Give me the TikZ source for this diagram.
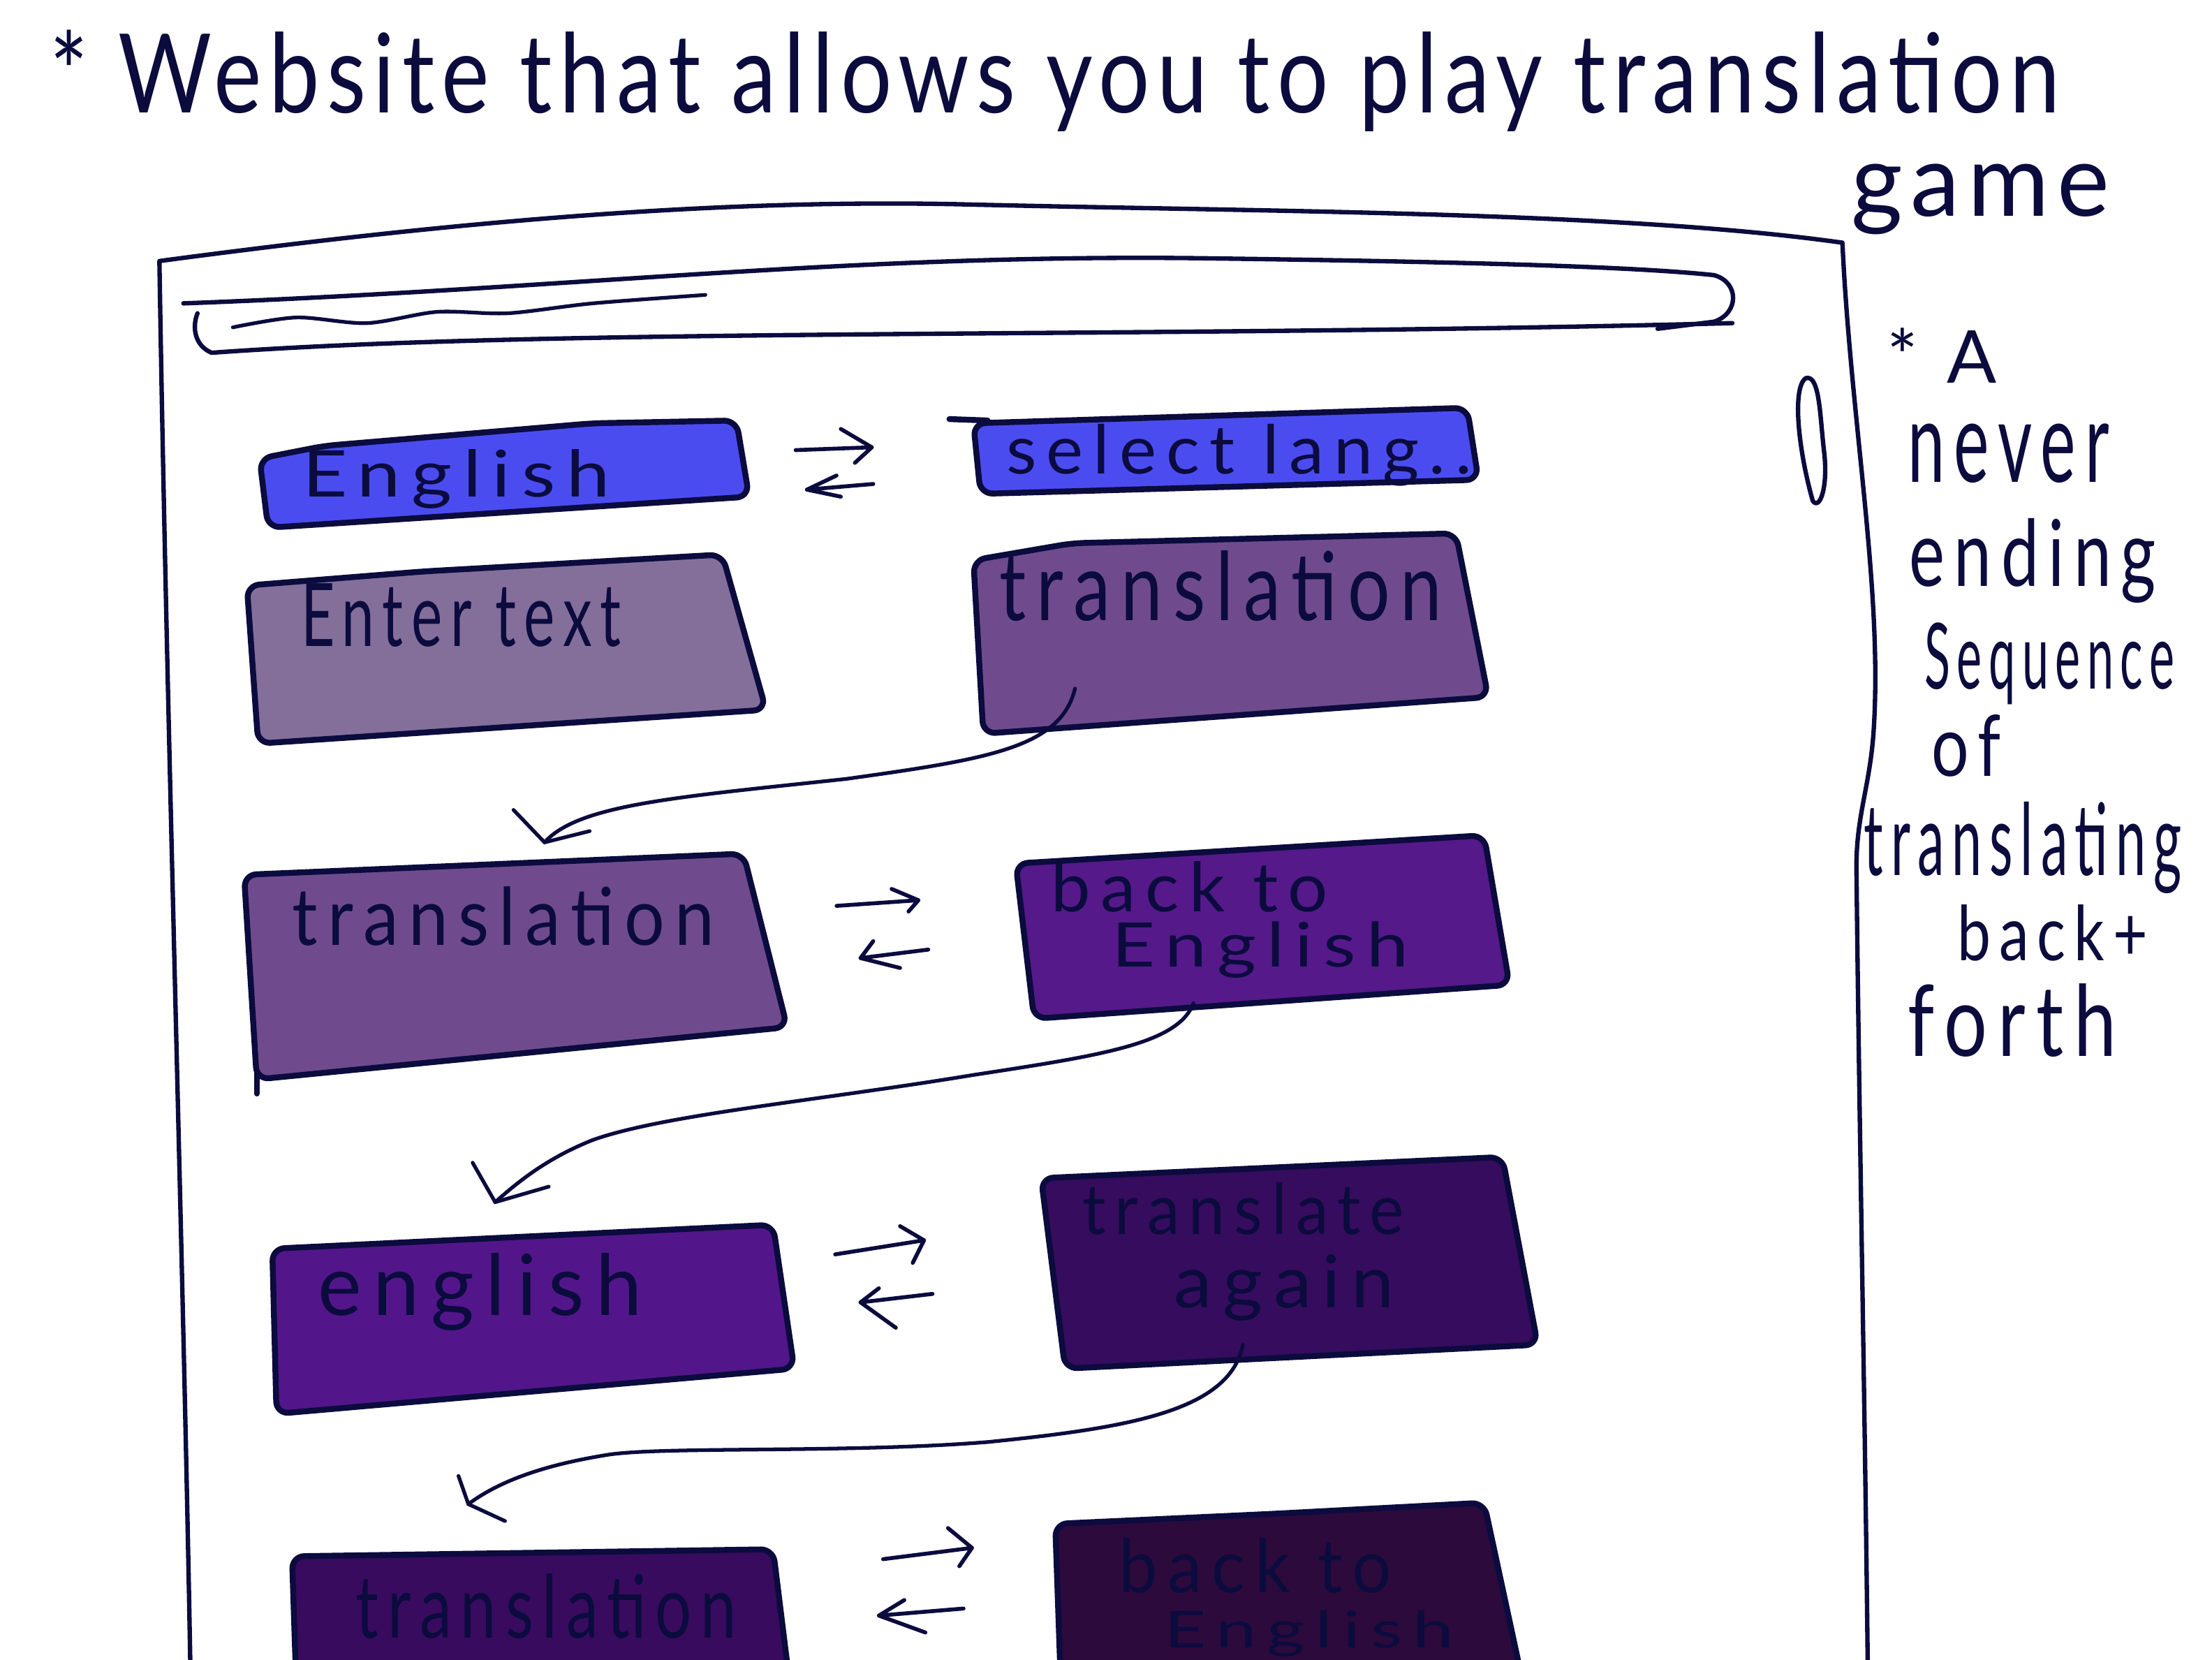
\documentclass[tikz,border=0pt]{standalone}
\usepackage{fontspec}
\setmainfont{Lato}
\newfontfamily\hand{Lato}[LetterSpace=14]
\newfontfamily\handt{Lato}[LetterSpace=8]
\usepackage{graphicx}
\newlength\pxu
\setlength\pxu{0.5747pt}
\newcommand\hw[3]{\resizebox*{#1\pxu}{#2\pxu}{\hand #3}}
\newcommand\hwt[3]{\resizebox*{#1\pxu}{#2\pxu}{\handt #3}}
\definecolor{ink}{HTML}{0B0B3E}
\definecolor{cBlue}{HTML}{4B4CF0}
\definecolor{cGrey}{HTML}{846F9B}
\definecolor{cTrans}{HTML}{6F4B8E}
\definecolor{cBack}{HTML}{55198A}
\definecolor{cEng}{HTML}{53168A}
\definecolor{cAgain}{HTML}{360C5E}
\definecolor{cTransB}{HTML}{380B5F}
\definecolor{cBackB}{HTML}{2D0A3C}
\begin{document}
\begin{tikzpicture}[x=0.0202cm,y=-0.0202cm,line cap=round,line join=round,
  frame/.style={draw=ink,line width=1.8pt},
  bx/.style={draw=ink,line width=2.4pt,rounded corners=5pt},
  con/.style={draw=ink,line width=1.5pt},
  xarr/.style={draw=ink,line width=1.6pt},
  lbl/.style={inner sep=0pt,anchor=north west,text=ink}]
\useasboundingbox (0,0) rectangle (1568,1176);
\fill[white] (0,0) rectangle (1568,1176);
\clip (0,0) rectangle (1568,1176);

% title
\node[lbl] (title) at (35,21) {\hwt{1425}{72}{* Website that allows you to play translation}};
\node[lbl] (game) at (1312,116) {\hwt{183}{50}{game}};

% browser frame
\draw[frame] (135,1185) .. controls (130,900) and (118,500) .. (113,185)
  .. controls (300,160) and (500,140) .. (690,145)
  .. controls (900,150) and (1150,150) .. (1306,172)
  .. controls (1312,300) and (1335,420) .. (1328,520)
  .. controls (1325,560) and (1315,580) .. (1316,620)
  .. controls (1318,800) and (1322,1000) .. (1324,1185);
% url bar
\draw[frame] (130,215) .. controls (400,205) and (600,180) .. (850,183)
  .. controls (1000,185) and (1150,188) .. (1215,195)
  .. controls (1233,200) and (1233,222) .. (1215,228) -- (1175,233);
\draw[frame] (1228,229) .. controls (800,240) and (400,232) .. (150,250)
  .. controls (138,245) and (136,232) .. (140,222);
\draw[frame,line width=1.5pt] plot[smooth] coordinates {(165,232) (210,225) (260,229) (310,221) (360,222) (420,215) (500,209)};
% scrollbar
\draw[frame] (1280,268) .. controls (1270,275) and (1275,320) .. (1285,355)
  .. controls (1290,362) and (1296,345) .. (1293,320)
  .. controls (1290,295) and (1290,265) .. (1280,268) -- cycle;

% boxes
\path[bx,fill=cBlue] (184,325) -- (230,316) -- (420,300) -- (522,298) -- (531,352) -- (190,374) -- cycle;
\path[bx,fill=cBlue] (690,300) -- (1040,289) -- (1048,340) -- (695,350) -- cycle;
\draw[bx] (673,297) -- (700,298);
\path[bx,fill=cGrey] (175,415) -- (300,405) -- (512,393) -- (543,503) -- (183,527) -- cycle;
\path[bx,fill=cTrans] (690,397) -- (760,385) -- (1032,378) -- (1055,494) -- (697,520) -- cycle;
\path[bx,fill=cTrans] (173,620) -- (527,605) -- (558,728) -- (182,765) -- cycle;
\draw[bx] (182,760) -- (182,775);
\path[bx,fill=cBack] (720,612) -- (1052,592) -- (1070,698) -- (733,722) -- cycle;
\path[bx,fill=cEng] (193,885) -- (548,868) -- (563,970) -- (196,1002) -- cycle;
\path[bx,fill=cAgain] (738,835) -- (1065,820) -- (1090,953) -- (755,970) -- cycle;
\path[bx,fill=cTransB] (207,1103) -- (548,1098) -- (560,1195) -- (210,1195) -- cycle;
\path[bx,fill=cBackB] (748,1080) -- (900,1073) -- (1052,1065) -- (1080,1195) -- (752,1195) -- cycle;

% box labels
\node[lbl] (english1) at (214,318) {\hw{218}{42}{English}};
\node[lbl] (select) at (713,300) {\hw{330}{44}{select lang..}};
\node[lbl] (enter) at (213,413) {\hw{227}{45}{Enter text}};
\node[lbl] (trans1) at (708,390) {\hw{314}{50}{translation}};
\node[lbl] (trans2) at (207,628) {\hw{299}{42}{translation}};
\node[lbl] (back1a) at (745,610) {\hw{196}{36}{back to}};
\node[lbl] (back1b) at (788,653) {\hw{210}{40}{English}};
\node[lbl] (english2) at (225,888) {\hw{230}{55}{english}};
\node[lbl] (again1a) at (767,838) {\hw{228}{37}{translate}};
\node[lbl] (again1b) at (832,889) {\hw{156}{47}{again}};
\node[lbl] (trans3) at (252,1115) {\hw{270}{46}{translation}};
\node[lbl] (back2a) at (793,1090) {\hw{193}{39}{back to}};
\node[lbl] (back2b) at (825,1141) {\hw{205}{33}{English}};

% side note
\node[lbl] (n1) at (1337,232) {\hw{78}{39}{* A}};
\node[lbl] (n2) at (1352,300) {\hw{143}{42}{never}};
\node[lbl] (n3) at (1353,367) {\hw{175}{60}{ending}};
\node[lbl] (n4) at (1364,441) {\hw{177}{58}{Sequence}};
\node[lbl] (n5) at (1369,506) {\hw{49}{44}{of}};
\node[lbl] (n6) at (1321,568) {\hw{225}{65}{translating}};
\node[lbl] (n7) at (1387,641) {\hw{135}{40}{back+}};
\node[lbl] (n8) at (1352,697) {\hw{148}{52}{forth}};

% curved connectors
\coordinate (c1s) at (762,488); \coordinate (c1e) at (386,597);
\draw[con] (c1s) .. controls (752,530) and (700,538) .. (600,552)
  .. controls (480,565) and (410,570) .. (c1e);
\draw[con] (c1e) -- ++(-22,-23) (c1e) -- ++(32,-8);
\coordinate (c2s) at (846,711); \coordinate (c2e) at (351,852);
\draw[con] (c2s) .. controls (835,740) and (780,748) .. (689,762)
  .. controls (580,780) and (470,790) .. (420,808)
  .. controls (390,820) and (370,835) .. (c2e);
\draw[con] (c2e) -- ++(-16,-28) (c2e) -- ++(38,-11);
\coordinate (c3s) at (881,953); \coordinate (c3e) at (332,1066);
\draw[con] (c3s) .. controls (872,1000) and (800,1012) .. (700,1022)
  .. controls (600,1030) and (470,1025) .. (431,1031)
  .. controls (400,1036) and (360,1045) .. (c3e);
\draw[con] (c3e) -- ++(-7,-20) (c3e) -- ++(26,12);

% exchange arrows
\coordinate (r1s) at (564,319); \coordinate (r1e) at (618,317);
\draw[xarr] (r1s) -- (r1e) (r1e) -- ++(-22,-13) (r1e) -- ++(-12,11);
\coordinate (l1s) at (619,343); \coordinate (l1e) at (572,347);
\draw[xarr] (l1s) -- (l1e) (l1e) -- ++(21,-10) (l1e) -- ++(24,5);
\coordinate (r2s) at (593,642); \coordinate (r2e) at (651,638);
\draw[xarr] (r2s) -- (r2e) (r2e) -- ++(-19,-8) (r2e) -- ++(-7,8);
\coordinate (l2s) at (658,673); \coordinate (l2e) at (610,679);
\draw[xarr] (l2s) -- (l2e) (l2e) -- ++(9,-12) (l2e) -- ++(28,7);
\coordinate (r3s) at (592,889); \coordinate (r3e) at (655,879);
\draw[xarr] (r3s) -- (r3e) (r3e) -- ++(-17,-10) (r3e) -- ++(-8,16);
\coordinate (l3s) at (661,917); \coordinate (l3e) at (610,923);
\draw[xarr] (l3s) -- (l3e) (l3e) -- ++(13,-10) (l3e) -- ++(25,18);
\coordinate (r4s) at (626,1105); \coordinate (r4e) at (689,1097);
\draw[xarr] (r4s) -- (r4e) (r4e) -- ++(-17,-14) (r4e) -- ++(-9,13);
\coordinate (l4s) at (683,1140); \coordinate (l4e) at (623,1145);
\draw[xarr] (l4s) -- (l4e) (l4e) -- ++(18,-11) (l4e) -- ++(33,12);
\end{tikzpicture}
\end{document}
